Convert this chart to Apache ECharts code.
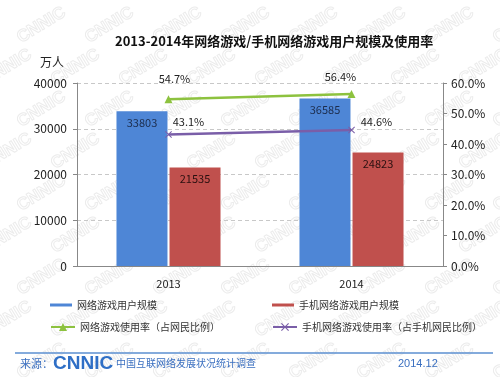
<!DOCTYPE html>
<html>
<head>
<meta charset="UTF-8">
<title>网络游戏用户规模及使用率</title>
<script type="text/javascript" src="https://cdn.jsdelivr.net/npm/echarts@6/dist/echarts.min.js"></script>
<style>
	html, body { margin: 0; padding: 0; background: #fff; }
	#main { width: 500px; height: 377px; }
</style>
</head>
<body>
<div id="main"></div>
<script type="text/javascript">
	// 数据
	var years = ['2013', '2014'];
	var gameUsers = [33803, 36585];        // 网络游戏用户规模（万人）
	var mobileGameUsers = [21535, 24823];  // 手机网络游戏用户规模（万人）
	var gameRate = [54.7, 56.4];           // 网络游戏使用率（%）
	var mobileGameRate = [43.1, 44.6];     // 手机网络游戏使用率（%）

	var FONT = '"Noto Sans CJK SC", "Liberation Sans", sans-serif';

	// 折线标签的偏移（相对数据点）
	var greenOffsets = [[6, -20], [-11, -17]];
	var purpleOffsets = [[20, -13], [25, -8]];

	function rateData(values, offsets) {
		return values.map(function (v, i) {
			return { value: v, label: { offset: offsets[i] } };
		});
	}

	// 水印
	var marks = [];
	for (var r = 0; r < 10; r++) {
		for (var c = 0; c < 9; c++) {
			marks.push({
				type: 'text', z: -10, silent: true,
				x: c * 68 - 20 + (r % 2) * 34, y: r * 42 - 10,
				rotation: 0.55,
				style: { text: 'CNNIC', fill: 'none', stroke: '#ececec', lineWidth: 1, font: 'bold 17px "Liberation Sans"' }
			});
		}
	}

	var legendBase = {
		itemGap: 4,
		padding: 0,
		textStyle: { fontSize: 10, color: '#333', fontFamily: FONT },
		selectedMode: false
	};

	var myChart = echarts.init(document.getElementById('main'));
	var option = {
		backgroundColor: '#fff',
		animation: false,
		title: {
			text: '2013-2014年网络游戏/手机网络游戏用户规模及使用率',
			left: 110, top: 30,
			textStyle: { fontSize: 13, fontWeight: 'bold', color: '#111', fontFamily: FONT }
		},
		grid: { left: 77, right: 57, top: 83, bottom: 111 },
		legend: [
			Object.assign({ left: 50, top: 300, itemWidth: 22, itemHeight: 3, icon: 'rect', data: ['网络游戏用户规模'] }, legendBase),
			Object.assign({ left: 272, top: 300, itemWidth: 22, itemHeight: 3, icon: 'rect', data: ['手机网络游戏用户规模'] }, legendBase),
			Object.assign({ left: 50, top: 322, itemWidth: 24, itemHeight: 10, data: ['网络游戏使用率（占网民比例）'] }, legendBase),
			Object.assign({ left: 272, top: 322, itemWidth: 24, itemHeight: 10, data: ['手机网络游戏使用率（占手机网民比例）'] }, legendBase)
		],
		xAxis: {
			type: 'category',
			data: years,
			axisLine: { lineStyle: { color: '#888' } },
			axisTick: { inside: true, length: 4, lineStyle: { color: '#888' } },
			axisLabel: { fontSize: 11, color: '#222', margin: 12, fontFamily: FONT }
		},
		yAxis: [
			{
				type: 'value', min: 0, max: 40000, interval: 10000,
				axisLine: { show: true, lineStyle: { color: '#888' } },
				axisTick: { show: true, length: 4, lineStyle: { color: '#888' } },
				axisLabel: {
					fontSize: 12, color: '#222', margin: 10, fontFamily: FONT,
					formatter: function (v) { return String(v); }
				},
				splitLine: { lineStyle: { type: [4, 3], color: '#c8c8c8' } }
			},
			{
				type: 'value', min: 0, max: 60, interval: 10,
				axisLine: { show: true, lineStyle: { color: '#888' } },
				axisTick: { show: true, length: 4, lineStyle: { color: '#888' } },
				axisLabel: {
					fontSize: 12, color: '#222', margin: 8, fontFamily: FONT,
					formatter: function (v) { return v.toFixed(1) + '%'; }
				},
				splitLine: { show: false }
			}
		],
		series: [
			{
				name: '网络游戏用户规模', type: 'bar', data: gameUsers,
				barWidth: 51, barGap: '4%',
				itemStyle: { color: '#4e86d6' },
				label: { show: true, position: 'insideTop', distance: 6, fontSize: 11, color: '#1c2d4d', fontFamily: FONT }
			},
			{
				name: '手机网络游戏用户规模', type: 'bar', data: mobileGameUsers,
				barWidth: 51,
				itemStyle: { color: '#c0504d' },
				label: { show: true, position: 'insideTop', distance: 6, fontSize: 11, color: '#2a1010', fontFamily: FONT }
			},
			{
				name: '网络游戏使用率（占网民比例）', type: 'line', yAxisIndex: 1,
				data: rateData(gameRate, greenOffsets),
				symbol: 'triangle', symbolSize: 8,
				lineStyle: { width: 2.5, color: '#8dc23f' },
				itemStyle: { color: '#8dc23f' },
				label: {
					show: true, position: 'inside', fontSize: 11, color: '#222', fontFamily: FONT,
					formatter: function (p) { return p.value.toFixed(1) + '%'; }
				}
			},
			{
				name: '手机网络游戏使用率（占手机网民比例）', type: 'line', yAxisIndex: 1,
				data: rateData(mobileGameRate, purpleOffsets),
				symbol: 'path://M0,1L1,0L5,4L9,0L10,1L6,5L10,9L9,10L5,6L1,10L0,9L4,5Z', symbolSize: 7,
				lineStyle: { width: 2.5, color: '#7a5ea8' },
				itemStyle: { color: '#7a5ea8' },
				label: {
					show: true, position: 'inside', fontSize: 11, color: '#222', fontFamily: FONT,
					formatter: function (p) { return p.value.toFixed(1) + '%'; }
				}
			}
		],
		graphic: marks.concat([
			{ type: 'text', x: 40, y: 56, style: { text: '万人', font: '12px ' + FONT, fill: '#222' } },
			{ type: 'line', shape: { x1: 15, y1: 353, x2: 493, y2: 353 }, style: { stroke: '#5b8fd0', lineWidth: 1.5 } },
			{ type: 'text', x: 20, y: 358, style: { text: '来源：', font: '11px ' + FONT, fill: '#3a6fc0' } },
			{ type: 'text', x: 53, y: 354, style: { text: 'CNNIC', font: 'bold 19px "Liberation Sans"', fill: '#2f6fc6' } },
			{ type: 'text', x: 116, y: 358, style: { text: '中国互联网络发展状况统计调查', font: '10px ' + FONT, fill: '#3a6fc0' } },
			{ type: 'text', x: 398, y: 358, style: { text: '2014.12', font: '11px "Liberation Sans"', fill: '#3a6fc0' } }
		])
	};
	myChart.setOption(option);
</script>
</body>
</html>
